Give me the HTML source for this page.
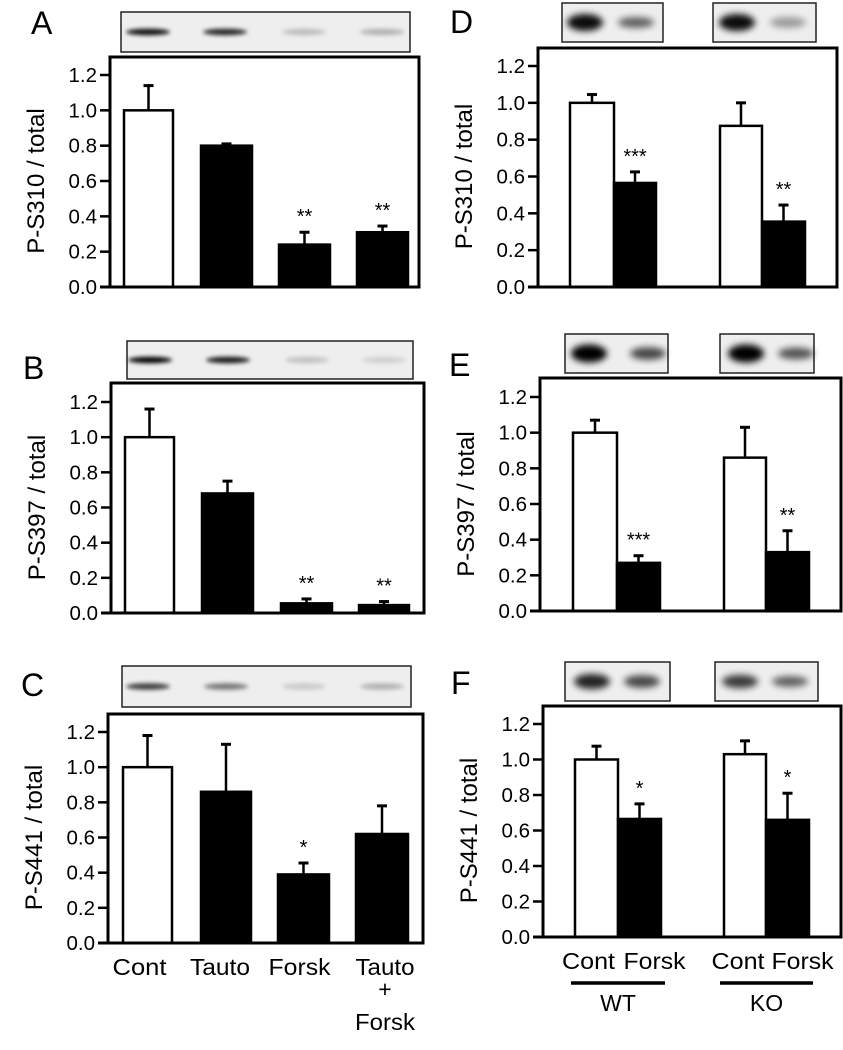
<!DOCTYPE html>
<html><head><meta charset="utf-8"><style>
html,body{margin:0;padding:0;background:#fff;}
svg{display:block;font-family:"Liberation Sans",Arial,sans-serif;}
</style></head><body>
<svg id="fig" width="843" height="1050" viewBox="0 0 843 1050" xmlns="http://www.w3.org/2000/svg">
<defs>
<filter id="blur1" x="-50%" y="-100%" width="200%" height="300%"><feGaussianBlur stdDeviation="2"/></filter>
<filter id="blur2" x="-50%" y="-100%" width="200%" height="300%"><feGaussianBlur stdDeviation="3.5"/></filter>
</defs>
</svg>
<script>
const yTicks = [0.0, 0.2, 0.4, 0.6, 0.8, 1.0, 1.2];
const yTickLabels = ["0.0","0.2","0.4","0.6","0.8","1.0","1.2"];
const valuesA = [1.0, 0.80, 0.24, 0.31];
const errA = [0.14, 0.01, 0.07, 0.035];
const starsA = ["", "", "**", "**"];
const valuesB = [1.0, 0.68, 0.055, 0.045];
const errB = [0.16, 0.07, 0.025, 0.02];
const starsB = ["", "", "**", "**"];
const valuesC = [1.0, 0.86, 0.39, 0.62];
const errC = [0.18, 0.27, 0.065, 0.16];
const starsC = ["", "", "*", ""];
const valuesD = [1.0, 0.565, 0.875, 0.355];
const errD = [0.045, 0.06, 0.125, 0.09];
const starsD = ["", "***", "", "**"];
const valuesE = [1.0, 0.27, 0.86, 0.33];
const errE = [0.07, 0.04, 0.17, 0.12];
const starsE = ["", "***", "", "**"];
const valuesF = [1.0, 0.665, 1.03, 0.66];
const errF = [0.075, 0.085, 0.075, 0.15];
const starsF = ["", "*", "", "*"];
const leftCategories = ["Cont", "Tauto", "Forsk", "Tauto + Forsk"];
const rightCategories = ["Cont", "Forsk", "Cont", "Forsk"];
const rightGroups = ["WT", "KO"];

const NS = "http://www.w3.org/2000/svg";
const svg = document.getElementById('fig');
function mk(tag, attrs, parent){
  const e = document.createElementNS(NS, tag);
  for (const k in attrs) e.setAttribute(k, attrs[k]);
  (parent || svg).appendChild(e);
  return e;
}

const panels = [
  {id:'a', letter:'A', lx:31, ly:34, title:'P-S310 / total', vals:valuesA, errs:errA, stars:starsA,
   fx0:110, fx1:419, ftop:57, y0:287, y12:75, bars:[[124,173],[201,252],[279,330],[357,408]],
   blots:[[121,410,12,52]], bands:[[148,0.95],[225,0.85],[304,0.2],[382,0.25]], wide:false},
  {id:'b', letter:'B', lx:23, ly:379, title:'P-S397 / total', vals:valuesB, errs:errB, stars:starsB,
   fx0:111, fx1:424, ftop:383, y0:613, y12:402, bars:[[125,174],[202,253],[281,332],[359,409]],
   blots:[[127,413,341,379]], bands:[[150,1.0],[228,0.9],[307,0.18],[384,0.12]], wide:false},
  {id:'c', letter:'C', lx:21, ly:696, title:'P-S441 / total', vals:valuesC, errs:errC, stars:starsC,
   fx0:108, fx1:423, ftop:714, y0:943, y12:732, bars:[[123,172],[201,251],[278,329],[356,408]],
   blots:[[122,411,666,707]], bands:[[148,0.75],[226,0.5],[304,0.15],[382,0.25]], wide:false},
  {id:'d', letter:'D', lx:450, ly:33, title:'P-S310 / total', vals:valuesD, errs:errD, stars:starsD,
   fx0:538, fx1:837, ftop:48, y0:287, y12:66, bars:[[570,614],[614,656],[720,762],[762,805]],
   blots:[[562,663,3,42],[713,816,3,42]], bands:[[585,0.95],[636,0.6],[737,0.95],[788,0.35]], wide:true},
  {id:'e', letter:'E', lx:449, ly:376, title:'P-S397 / total', vals:valuesE, errs:errE, stars:starsE,
   fx0:540, fx1:841, ftop:378, y0:611, y12:397, bars:[[573,617],[617,660],[724,766],[766,809]],
   blots:[[565,668,334,373],[720,814,334,373]], bands:[[589,1.0],[648,0.7],[746,1.0],[796,0.65]], wide:true},
  {id:'f', letter:'F', lx:451, ly:694, title:'P-S441 / total', vals:valuesF, errs:errF, stars:starsF,
   fx0:543, fx1:841, ftop:706, y0:937, y12:724, bars:[[575,618],[618,661],[724,766],[766,809]],
   blots:[[565,670,662,701],[715,818,662,701]], bands:[[592,0.85],[642,0.7],[740,0.75],[790,0.6]], wide:true}
];

panels.forEach(p => {
  const g = mk('g', {});
  
  
  const yScale = v => p.y0 - (v / 1.2) * (p.y0 - p.y12);

  const L = mk('text', {x:p.lx, y:p.ly, 'font-size':32, fill:'#000'}, g);
  L.textContent = p.letter;
  
  

  p.blots.forEach((b, i) => {
    const bg = mk('g', {}, g);
    
    
    mk('rect', {x:b[0], y:b[2], width:b[1]-b[0], height:b[3]-b[2], fill:'#eeeeee', stroke:'#222', 'stroke-width':1.5}, bg);
  });
  p.bands.forEach((bd) => {
    const b = p.blots.find(bl => bd[0] > bl[0] && bd[0] < bl[1]);
    const cy = (b[2] + b[3]) / 2;
    const e = mk('ellipse', {cx:bd[0], cy:cy, rx: p.wide ? 18 : 22, ry: p.wide ? 9*Math.max(0.6,bd[1]) : 3.2,
      fill:'#000', opacity:bd[1], filter: p.wide ? 'url(#blur2)' : 'url(#blur1)'}, g);
    
    
  });

  const fr = mk('rect', {x:p.fx0, y:p.ftop, width:p.fx1-p.fx0, height:p.y0-p.ftop, fill:'none', stroke:'#000', 'stroke-width':3}, g);
  
  

  yTicks.forEach((t, i) => {
    const y = yScale(t);
    const tk = mk('line', {x1:p.fx0-10, x2:p.fx0, y1:y, y2:y, stroke:'#000', 'stroke-width':2.5}, g);
    
    
    const tl = mk('text', {x:p.fx0-13, y:y+7, 'font-size':20.5, 'text-anchor':'end', fill:'#000'}, g);
    tl.textContent = yTickLabels[i];
    
    
  });
  const yt = mk('text', {x:0, y:0, 'font-size':24, 'text-anchor':'middle', fill:'#000',
    transform:`translate(${p.fx0-66},${(p.y0+p.y12)/2}) rotate(-90)`}, g);
  yt.textContent = p.title;
  
  

  p.vals.forEach((v, i) => {
    const [x0, x1] = p.bars[i];
    const cx = (x0 + x1) / 2;
    const top = yScale(v + p.errs[i]);
    const el = mk('line', {x1:cx, x2:cx, y1:yScale(v), y2:top, stroke:'#000', 'stroke-width':2.5}, g);
    
    
    const cap = mk('line', {x1:cx-5, x2:cx+5, y1:top, y2:top, stroke:'#000', 'stroke-width':3}, g);
    
    
    const white = (p.wide ? (i % 2 === 0) : i === 0);
    const r = mk('rect', {x:x0, y:yScale(v), width:x1-x0, height:p.y0-yScale(v),
      fill: white ? '#fff' : '#000', stroke:'#000', 'stroke-width':2.5}, g);
    
    
    if (p.stars[i]) {
      const s = mk('text', {x:cx, y:top-9, 'font-size':20, 'text-anchor':'middle', fill:'#000'}, g);
      s.textContent = p.stars[i];
      
      
    }
  });
  const bl = mk('line', {x1:p.fx0-10, x2:p.fx1, y1:p.y0, y2:p.y0, stroke:'#000', 'stroke-width':3}, g);
  
  
});

// left x labels (panel C)
const pc = panels[2];
const leftWidths = [54, 60, 62, 59];
leftCategories.forEach((c, i) => {
  const cx = (pc.bars[i][0] + pc.bars[i][1]) / 2 - 8 + (i === 3 ? 11 : i * 2);
  const parts = c.split(' ');
  const t = mk('text', {x:cx, y:975, 'font-size':23, 'text-anchor':'middle', fill:'#000'});
  
  
  parts.forEach((w, j) => {
    const ts = mk('tspan', {x:cx, y: 975 + [0, 22, 55][j]}, t);
    if (w !== '+') { ts.setAttribute('textLength', j === 0 ? leftWidths[i] : 60); ts.setAttribute('lengthAdjust', 'spacingAndGlyphs'); }
    ts.textContent = w;
  });
});
// right x labels (panel F)
const pf = panels[5];
const rightShift = [-8, 15, -7, 15];
rightCategories.forEach((c, i) => {
  const cx = (pf.bars[i][0] + pf.bars[i][1]) / 2 + rightShift[i];
  const t = mk('text', {x:cx, y:969, 'font-size':23, 'text-anchor':'middle', fill:'#000',
    textLength: c === 'Cont' ? 53 : 62, lengthAdjust:'spacingAndGlyphs'});
  t.textContent = c;
  
  
});
rightGroups.forEach((gname, gi) => {
  const x0 = pf.bars[gi*2][0] - 4, x1 = pf.bars[gi*2+1][1] + 4;
  const ln = mk('line', {x1:x0, x2:x1, y1:983, y2:983, stroke:'#000', 'stroke-width':3.5});
  
  
  const t = mk('text', {x:(x0+x1)/2, y:1011, 'font-size':23, 'text-anchor':'middle', fill:'#000'});
  t.textContent = gname;
  
  
});
</script>
</body></html>
